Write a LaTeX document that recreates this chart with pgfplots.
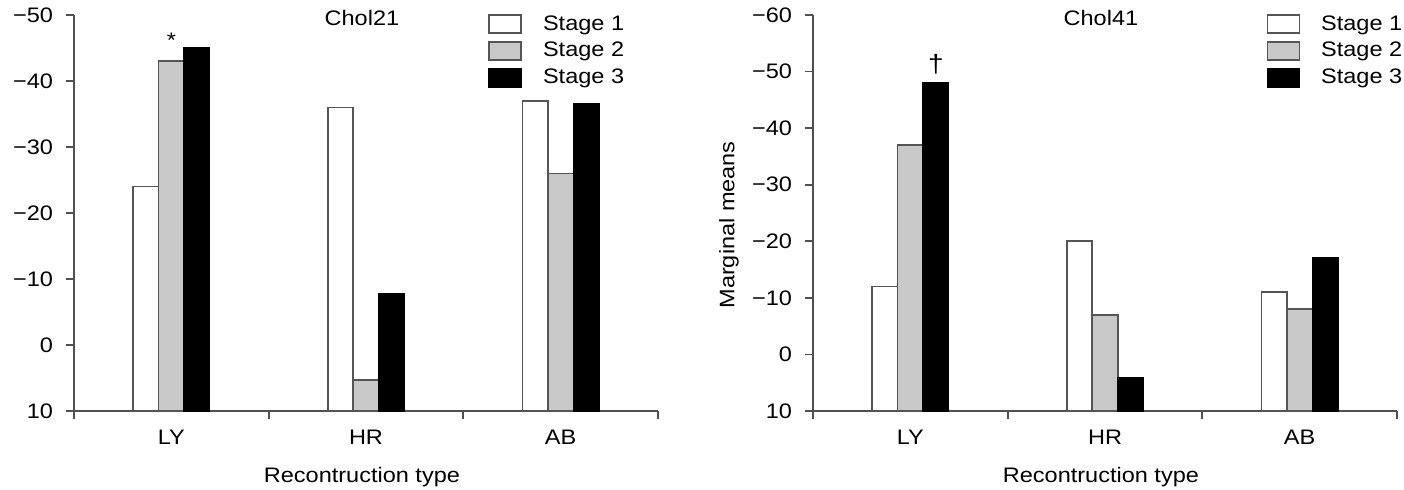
\documentclass[border=0pt]{standalone}
\usepackage{fontspec}
\setmainfont{Liberation Sans}[FakeStretch=1.12]
\usepackage{pgfplots}
\pgfplotsset{compat=1.18}
\usepackage{pgfplotstable}

\definecolor{axisgray}{HTML}{505050}
\definecolor{bargray}{HTML}{C8C8C8}
\definecolor{edgegray}{HTML}{555555}

% values as read (y axis reversed, bars drawn from the baseline at 10)
\pgfplotstableread{
x s1 s2 s3
0.5 -24 -43 -45
1.5 -36 5.3 -7.8
2.5 -37 -26 -36.5
}\cholA
\pgfplotstableread{
x s1 s2 s3
0.5 -12 -37 -48
1.5 -20 -7 4.2
2.5 -11 -8 -17
}\cholB

\newcommand{\lbl}{\fontsize{10.5}{12.6}\selectfont}
\newcommand{\tck}{\fontsize{10.5}{12.6}\selectfont}

\pgfplotsset{
  panel/.style={
    scale only axis, width=292pt, height=198pt,
    xmin=0, xmax=3, ymin=0,
    axis lines=left,
    axis line style={axisgray, line width=0.9pt, -},
    tick style={axisgray, line width=0.9pt},
    tick align=outside,
    major tick length=4pt,
    xtick={0,1,2,3},
    x tick label as interval,
    xticklabels={LY,HR,AB},
    xticklabel style={font=\lbl, yshift=-2pt},
    yticklabel style={font=\tck, xshift=-3pt},
    ybar, bar width=0.131,
    legend style={draw=none, fill=none, anchor=north west, inner sep=0pt,
      font=\lbl, cells={anchor=west}, row sep=0.6pt,
      /tikz/every odd column/.append style={column sep=8.5pt}},
    clip=false,
  },
  s1/.style={fill=white, draw=edgegray, line width=0.8pt, bar shift=-0.131,
    legend image code/.code={\draw[fill=white, draw=edgegray, line width=0.8pt] (0pt,-4.5pt) rectangle (16pt,4.5pt);}},
  s2/.style={fill=bargray, draw=edgegray, line width=0.8pt, bar shift=0,
    legend image code/.code={\draw[fill=bargray, draw=edgegray, line width=0.8pt] (0pt,-4.5pt) rectangle (16pt,4.5pt);}},
  s3/.style={fill=black, draw=black, line width=0.8pt, bar shift=0.131,
    legend image code/.code={\draw[fill=black, draw=black, line width=0.8pt] (0pt,-4.5pt) rectangle (16pt,4.5pt);}},
}

\begin{document}
\begin{tikzpicture}
\begin{axis}[panel, ymax=60,
  ytick={0,10,...,60},
  yticklabels={10,0,−10,−20,−30,−40,−50},
  legend style={at={(0.709,1.01)}}]
\addplot[s1] table[x=x, y expr=10-\thisrow{s1}] {\cholA};
\addplot[s2] table[x=x, y expr=10-\thisrow{s2}] {\cholA};
\addplot[s3] table[x=x, y expr=10-\thisrow{s3}] {\cholA};
\legend{Stage 1,Stage 2,Stage 3}
\node[font=\lbl, anchor=center] at (rel axis cs:0.493,1) [yshift=-1.5pt] {Chol21};
\node[font=\lbl, anchor=base, inner sep=0pt] at (axis cs:0.5,53) [yshift=7pt] {*};
\node[font=\lbl, anchor=center] at (rel axis cs:0.493,0) [yshift=-33pt] {Recontruction type};
\end{axis}
\begin{axis}[panel, at={(369.5pt,0pt)}, ymax=70,
  ytick={0,10,...,70},
  yticklabels={10,0,−10,−20,−30,−40,−50,−60},
  legend style={at={(0.776,1.01)}}]
\addplot[s1] table[x=x, y expr=10-\thisrow{s1}] {\cholB};
\addplot[s2] table[x=x, y expr=10-\thisrow{s2}] {\cholB};
\addplot[s3] table[x=x, y expr=10-\thisrow{s3}] {\cholB};
\legend{Stage 1,Stage 2,Stage 3}
\node[font=\lbl, anchor=center] at (rel axis cs:0.493,1) [yshift=-1.5pt] {Chol41};
\node[font=\fontsize{12.5}{15}\selectfont, anchor=base, inner sep=0pt] at (axis cs:0.631,58) [yshift=5pt] {†};
\node[font=\lbl, anchor=center] at (rel axis cs:0.493,0) [yshift=-33pt] {Recontruction type};
\path (rel axis cs:0,0.47) ++(-42pt,0pt) node[font=\lbl, anchor=center, rotate=90] {Marginal means};
\end{axis}
\pgfresetboundingbox
\path (-37pt,-39.5pt) rectangle (665pt,205.5pt);
\end{tikzpicture}
\end{document}
